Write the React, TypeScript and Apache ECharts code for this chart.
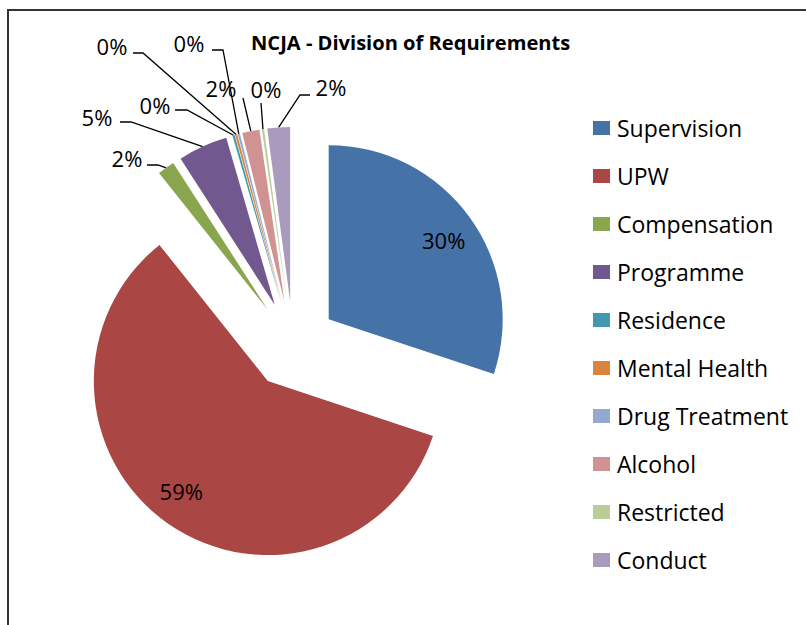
import React, { useEffect, useRef } from "react";
import * as echarts from "echarts";

const TITLE = "NCJA - Division of Requirements";
const categories = [
  "Supervision",
  "UPW",
  "Compensation",
  "Programme",
  "Residence",
  "Mental Health",
  "Drug Treatment",
  "Alcohol",
  "Restricted",
  "Conduct",
];
const shares = [30.1, 59.2, 1.6, 4.6, 0.2, 0.2, 0.2, 1.6, 0.2, 2.1];
const colors = [
  "#4572A7",
  "#AA4643",
  "#89A54E",
  "#71588F",
  "#4198AF",
  "#DB843D",
  "#93A9CF",
  "#D19392",
  "#B9CD96",
  "#A99BBD",
];

// label placement (layout only)
const EXPLODE = 44;
const INSIDE_SHIFT: Record<number, [number, number]> = {
  0: [42, -27],
  1: [-35, 36],
};
const OUTSIDE_SPOTS: Record<
  number,
  { text: [number, number]; bend: [number, number]; end: [number, number] }
> = {
  2: { text: [127, 158], bend: [158, 165], end: [147, 165] },
  3: { text: [97, 117], bend: [131, 122], end: [120, 122] },
  4: { text: [155, 105], bend: [187, 110], end: [175, 110] },
  5: { text: [112, 46], bend: [143, 53], end: [133, 53] },
  6: { text: [189, 43], bend: [223, 50], end: [212, 50] },
  7: { text: [221, 88], bend: [243, 98], end: [243, 98] },
  8: { text: [266, 89], bend: [261, 103], end: [261, 103] },
  9: { text: [331, 87], bend: [300, 95], end: [310, 95] },
};

const FONT = "Open Sans";

export default function App() {
  const ref = useRef<HTMLDivElement>(null);
  useEffect(() => {
    if (!ref.current) return;
    const chart = echarts.init(ref.current, undefined, { renderer: "svg" });

    // explode translation of each slice (pie starts at 90deg, clockwise)
    const total = shares.reduce((a, b) => a + b, 0);
    let acc = 0;
    const shifts = shares.map((v) => {
      const a0 = 90 - (acc / total) * 360;
      acc += v;
      const a1 = 90 - (acc / total) * 360;
      const mid = (((a0 + a1) / 2) * Math.PI) / 180;
      return [EXPLODE * Math.cos(mid), -EXPLODE * Math.sin(mid)];
    });

    const option: any = {
      animation: false,
      backgroundColor: "#fff",
      title: {
        text: TITLE,
        left: 251,
        top: 32,
        padding: 0,
        textStyle: {
          fontFamily: FONT,
          fontWeight: "bold",
          fontSize: 20.1,
          color: "#000",
        },
      },
      legend: {
        orient: "vertical",
        left: 593,
        top: 116,
        padding: 0,
        itemWidth: 17,
        itemHeight: 14,
        itemGap: 24,
        icon: "rect",
        selectedMode: false,
        textStyle: {
          fontFamily: FONT,
          fontSize: 23,
          color: "#000",
          lineHeight: 24,
          padding: [0, 0, 0, 2],
        },
        data: categories,
      },
      graphic: [
        {
          type: "rect",
          silent: true,
          z: -1,
          shape: { x: 8, y: 10, width: 900, height: 700 },
          style: { fill: "none", stroke: "#333", lineWidth: 2 },
        },
      ],
      series: [
        {
          type: "pie",
          center: [293, 345],
          radius: 174,
          startAngle: 90,
          clockwise: true,
          selectedMode: "multiple",
          selectedOffset: EXPLODE,
          avoidLabelOverlap: false,
          emphasis: { disabled: true },
          label: {
            show: true,
            position: "outside",
            fontFamily: FONT,
            fontSize: 22,
            color: "#000",
            formatter: (p: any) => Math.round(p.percent) + "%",
          },
          labelLine: {
            show: true,
            length: 10,
            length2: 10,
            lineStyle: { color: "#000", width: 1.3 },
          },
          labelLayout: (params: any) => {
            const i = params.dataIndex;
            if (INSIDE_SHIFT[i]) {
              return { dx: INSIDE_SHIFT[i][0], dy: INSIDE_SHIFT[i][1] };
            }
            const spot = OUTSIDE_SPOTS[i];
            if (!spot) return {};
            const r = params.labelRect;
            const cx = r.x + r.width / 2;
            const cy = r.y + r.height / 2;
            const [sx, sy] = shifts[i];
            const p0 = params.labelLinePoints[0];
            return {
              dx: spot.text[0] - sx - cx,
              dy: spot.text[1] - sy - cy,
              labelLinePoints: [
                [p0[0], p0[1]],
                [spot.bend[0] - sx, spot.bend[1] - sy],
                [spot.end[0] - sx, spot.end[1] - sy],
              ],
            };
          },
          data: categories.map((name, i) => ({
            name,
            value: shares[i],
            selected: true,
            itemStyle: { color: colors[i] },
            label: i < 2 ? { position: "inside" } : undefined,
            labelLine: i < 2 ? { show: false } : undefined,
          })),
        },
      ],
    };
    chart.setOption(option);
    return () => chart.dispose();
  }, []);
  return (
    <div
      ref={ref}
      style={{ position: "absolute", left: 0, top: 0, width: 806, height: 625 }}
    />
  );
}
